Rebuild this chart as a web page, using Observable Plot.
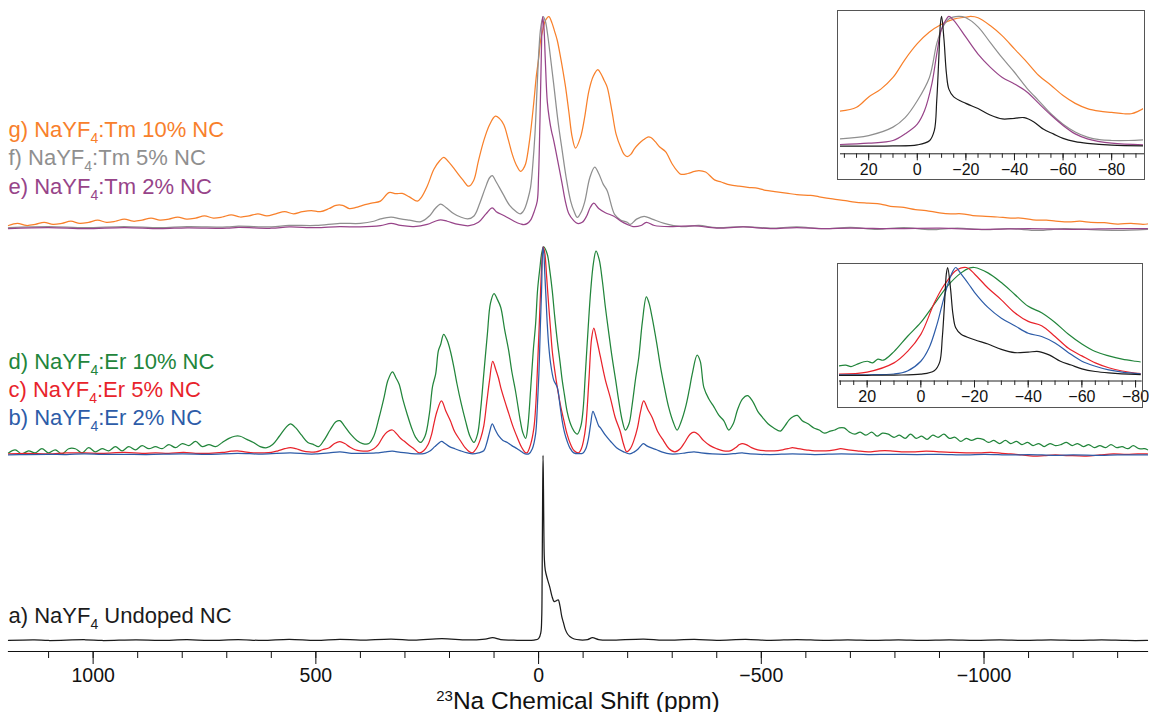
<!DOCTYPE html>
<html>
<head>
<meta charset="utf-8">
<script src="https://cdn.jsdelivr.net/npm/d3@7"></script>
<script src="https://cdn.jsdelivr.net/npm/@observablehq/plot@0.6"></script>
<style>
  body { margin: 0; background: #fff; }
  #wrap { position: relative; width: 1149px; height: 712px; font-family: "Liberation Sans", Arial, Helvetica, sans-serif; }
  #wrap svg { position: absolute; overflow: visible; }
  .frameBox { position: absolute; border: 1px solid #555; box-sizing: border-box; pointer-events: none; }
</style>
</head>
<body>
<div id="wrap"></div>
<script>
// ---------------- DATA (ppm, intensity % of own main peak) ----------------
const seriesKeys = ["a", "b", "c", "d", "e", "f", "g"];
const seriesLabels = {
  a: "a) NaYF4 Undoped NC",
  b: "b) NaYF4:Er 2% NC",
  c: "c) NaYF4:Er 5% NC",
  d: "d) NaYF4:Er 10% NC",
  e: "e) NaYF4:Tm 2% NC",
  f: "f) NaYF4:Tm 5% NC",
  g: "g) NaYF4:Tm 10% NC"
};
const axisTitle = "23Na Chemical Shift (ppm)";
const mainTicks = [1000, 500, 0, -500, -1000];
const insetTicks = [20, 0, -20, -40, -60, -80];

// a) undoped
const specA = [[1190,0],[1132,0.3],[1100,0],[1017,0.4],[980,0],[903,0.4],[850,0],[789,0.5],[740,0],[674,0.5],[620,0],[560,0.6],[500,0],[446,0.6],[400,0.2],[331,0.8],[280,0.2],[217,1],[160,0.3],[120,0.8],[103,1.5],[85,0.5],[60,0.2],[31,0],[10,0.2],[0,1],[-5,4.2],[-7,12],[-8,35],[-9,74],[-10,100],[-11,82],[-12,56],[-13,44],[-15,38],[-20,33],[-25,29],[-30,24],[-35,21],[-40,21.5],[-44,22],[-48,18.7],[-52,13],[-56,9.5],[-60,6],[-65,3.5],[-70,2.2],[-80,0.8],[-93,0.3],[-110,0.5],[-121,1.5],[-135,0.5],[-160,0.2],[-236,0.8],[-280,0.2],[-350,0.6],[-400,0.1],[-465,0.6],[-520,0.1],[-580,0.5],[-640,0.1],[-694,0.4],[-750,0.1],[-808,0.4],[-860,0.1],[-922,0.4],[-980,0.1],[-1036,0.3],[-1090,0],[-1150,0.3],[-1210,0],[-1264,0.3],[-1320,0],[-1367,0]];

// b) Er 2%
const specB = [[1190,0],[1150,0.2],[1100,0.3],[1060,0.2],[1020,0.5],[980,0.3],[930,0.3],[880,0.2],[800,0.5],[740,0.3],[676,0.8],[620,0.4],[557,1],[520,0.5],[500,0.5],[470,1],[446,1.5],[420,0.8],[400,0.8],[365,1],[345,1.5],[328,1.8],[310,1.2],[290,0.8],[270,0.5],[255,0.8],[243,2],[233,4],[225,5.5],[218,6.5],[210,5.5],[200,4],[188,3],[175,2],[160,1],[148,0.5],[135,1],[123,2],[116,6],[110,11],[104,15],[97,12],[89,9],[80,7],[70,6],[60,4.5],[48,3],[38,1.5],[30,0.5],[22,0.5],[14,3],[6.7,10],[3,22],[-0.7,39],[-4,62],[-6.7,79],[-9.7,100],[-12,96],[-14,87],[-17,74],[-19.5,63],[-23,52],[-27,44],[-34,36],[-42,32.5],[-48,24],[-53,16.4],[-58,11],[-64,6.7],[-70,3.5],[-79,1],[-92,0.6],[-100,1],[-106,3],[-112,8],[-117,15],[-122,21],[-128,18],[-135,14],[-139,13],[-150,9.5],[-161,6.7],[-175,3.5],[-191,1.5],[-205,0.5],[-215,1.5],[-224,3],[-230,4.5],[-235,5.5],[-242,4.5],[-252,3.5],[-265,2.5],[-280,1.2],[-295,0.5],[-310,0.5],[-330,1],[-349,1.5],[-365,1],[-390,0.5],[-420,0.3],[-445,0.8],[-457,1],[-475,0.5],[-520,0.2],[-570,0.5],[-620,0.2],[-680,0.5],[-740,0.2],[-790,0.3],[-850,0.2],[-900,0.3],[-960,0],[-1000,0.3],[-1060,0],[-1100,0.2],[-1160,-0.2],[-1200,0],[-1260,-0.2],[-1300,0],[-1367,0]];

// c) Er 5%
const specC = [[1190,0.5],[1150,0.8],[1100,0.5],[1060,1],[1020,1],[980,0.8],[930,1.2],[890,0.8],[860,1],[830,0.8],[797,1.2],[770,0.8],[740,0.8],[710,1.2],[690,1.8],[676,2],[660,1.5],[640,1],[620,1],[600,1.2],[585,2],[570,3],[557,3.5],[545,3],[530,2],[515,1.5],[500,1.5],[485,2.5],[470,3.5],[458,5.5],[446,6.4],[435,5.5],[425,4],[412,2.5],[400,2],[381,2],[370,3],[360,5],[350,8.5],[340,11],[328,12],[318,10],[310,8],[302,6.7],[290,4.5],[280,3],[268,1],[258,2],[248,5],[240,10],[235,15],[228,21],[218,26],[208,21],[198,16.4],[188,11],[175,6.7],[165,3.5],[155,1.5],[149,1],[140,3],[130,8],[123,14],[116,26],[110,36],[103,45],[96,41],[90,37],[85,32.5],[76,26],[67,20],[58,14],[48,8.5],[40,4.5],[30,1.2],[26,1],[18,5],[10.5,13],[6,25],[3,39],[-1,60],[-4.5,79],[-8,95],[-10.5,100],[-14,97],[-18,86],[-23,71],[-27,60],[-30.7,50],[-36,41],[-42,32.5],[-50,23],[-57,16.4],[-64,10],[-72,5],[-80,2],[-90,1],[-96,3],[-101,7],[-106,14],[-113,36],[-119,56],[-124,61],[-130,56],[-139,47],[-150,36],[-161,27.6],[-172,18],[-183,11.5],[-191,5],[-198,1.5],[-206,3],[-214,7],[-222,13],[-229,21],[-236,26],[-245,22],[-255,18],[-268,11],[-281,6.7],[-293,3],[-306,1.5],[-318,3],[-328,6],[-340,10],[-349,11],[-358,10],[-370,7],[-385,4.5],[-400,3],[-415,2],[-430,2],[-442,3.5],[-451,5],[-457,5.5],[-466,5],[-478,3.5],[-492,2.5],[-510,2],[-530,2],[-548,2.5],[-560,3],[-570,3.5],[-582,3],[-600,2.5],[-620,2],[-645,2],[-665,2.5],[-678,3],[-695,2.5],[-715,2],[-740,1.5],[-765,2],[-790,2],[-815,1.5],[-840,1.5],[-870,1.8],[-903,1.5],[-930,1.2],[-960,1],[-990,1],[-1015,1.2],[-1040,0.8],[-1060,0.5],[-1085,0],[-1110,-0.5],[-1135,-0.3],[-1160,0],[-1190,-0.3],[-1230,-0.5],[-1260,0],[-1290,0.5],[-1320,0.3],[-1345,0.5],[-1367,0.5]];

// d) Er 10%
const specD = [[1190,1],[1175,2.5],[1160,0.5],[1145,2],[1130,1],[1115,3],[1100,1],[1085,2.5],[1070,0.5],[1055,3],[1040,3],[1025,1],[1010,3.5],[995,1.5],[980,3],[965,2],[950,4],[935,2],[920,4],[905,2.5],[890,4.5],[875,3],[860,4],[845,3],[830,5],[815,3.5],[800,5.5],[785,4.5],[770,6.5],[755,4],[740,5],[725,4],[710,6],[695,8],[682,9],[670,9],[655,7.5],[640,6],[625,4],[610,3.5],[597,5],[582,9],[568,13],[557,15],[545,13],[532,9.5],[518,6],[505,5],[494,4],[482,7],[468,12],[455,16],[446,16.5],[436,14],[422,10],[408,7],[395,5.5],[381,5.5],[370,9],[358,18],[347,27.6],[338,36],[328,40],[320,37],[313,34],[305,27],[295,19.6],[285,13],[276,8.5],[265,6],[255,9],[245,20],[238,33],[231,39],[225,50],[220,53],[213,58],[205,55],[198,50],[190,42],[183,34],[174,25],[164,16.4],[154,9],[145,6],[137,10],[130,22],[123,39],[115,58],[108,73],[100,77.6],[93,75],[85,71],[76,60],[67,50],[60,40],[52,31],[46,23],[41,16.4],[35,10.5],[29,8],[24,14],[18,31],[12,50],[6.7,63],[2,80],[-3,90],[-7,97],[-11.5,100],[-19.5,96.5],[-25,89],[-30.7,79],[-36,67],[-42,55],[-48,45],[-53,36],[-58,29],[-64,21],[-70,16],[-75.6,13],[-81,11],[-87,10],[-95,14],[-100,22],[-105,39],[-111,60],[-117,79],[-123,92],[-129,98],[-136,94],[-143,84],[-150,71],[-158,58],[-165,47],[-173,36],[-180,26],[-188,16.4],[-195,12],[-203,15],[-210,24],[-218,37],[-225,47],[-233,64],[-242,76],[-248,73],[-255,66],[-265,54],[-274,42],[-283,32],[-292,23],[-302,16],[-311,12],[-320,16],[-330,23],[-338,31],[-345,39],[-356,48],[-363,45],[-371,32.5],[-382,27],[-394,23],[-405,19],[-416,16.4],[-427,12],[-437,15],[-447,22],[-458,27],[-469,28.5],[-480,26],[-492,21],[-503,18],[-515,15],[-528,13],[-543,11.5],[-553,14],[-563,17],[-572,18.5],[-581,19],[-592,16.5],[-605,15],[-618,13],[-630,12],[-642,10.5],[-655,11.5],[-665,12],[-675,13],[-686,13],[-698,11],[-710,10],[-722,11],[-735,9.5],[-748,11],[-760,9],[-772,10.5],[-785,10],[-798,8.5],[-810,9.5],[-823,8],[-835,10],[-848,8],[-860,9],[-872,7.5],[-885,9.5],[-897,8.5],[-910,10],[-922,8],[-935,8.5],[-948,6.5],[-960,8],[-972,7],[-985,8],[-998,7.5],[-1010,6],[-1022,7],[-1035,5.5],[-1048,7],[-1060,5.5],[-1073,6.5],[-1085,5],[-1098,6],[-1110,4.5],[-1123,5.5],[-1135,4],[-1148,5.5],[-1160,4.5],[-1173,5],[-1185,6],[-1198,4.5],[-1210,5.5],[-1223,4],[-1235,5],[-1248,3.5],[-1260,4.5],[-1273,3.5],[-1285,5],[-1298,3.5],[-1310,4],[-1323,3],[-1335,4.5],[-1348,3],[-1360,3],[-1367,2.5]];

// e) Tm 2%
const specE = [[1190,0],[1100,0.5],[1017,0],[930,0.5],[850,0],[789,0.4],[700,0.2],[674,0.6],[600,0.2],[560,0.8],[500,0.5],[446,1],[400,0.8],[355,1.4],[331,2.5],[310,1.5],[280,1],[250,2],[232,3.5],[220,4.2],[205,3.5],[180,2],[156,1.4],[135,3],[118,7],[104,9.8],[95,8],[76,6],[55,3.5],[40,2.2],[33,1.9],[25,2.5],[18,4],[10,8],[3,13],[0,25],[-3,50],[-6,80],[-9,100],[-12,95],[-15,80],[-19.5,60],[-24,52],[-29,46],[-34,41.5],[-43,32],[-53,21],[-60,13],[-68,7],[-78,4],[-87,2.5],[-98,3],[-108,6],[-116,10],[-124,12],[-135,9.5],[-150,7.5],[-168,6],[-185,3.5],[-199,2],[-212,1],[-230,1.5],[-242,3],[-260,1.5],[-300,1],[-350,1.3],[-400,0.3],[-460,0.8],[-520,0],[-580,0.5],[-640,0],[-700,0.3],[-800,0],[-900,0.2],[-1000,-0.3],[-1100,0],[-1200,-0.3],[-1300,0],[-1367,0]];

// f) Tm 5%
const specF = [[1190,0.5],[1100,1],[1017,0.5],[930,1],[850,0.5],[789,1],[700,0.8],[674,1.2],[600,0.8],[560,1.5],[500,1.5],[446,2.5],[400,2.5],[370,3.5],[355,4.6],[331,5.5],[310,4.6],[290,4],[264,3.3],[245,6],[232,9.5],[220,11.6],[208,10],[190,7],[175,5.5],[159,4.6],[145,6],[132,12],[120,19],[110,24],[104,25],[95,22],[80,16.4],[65,11],[50,8],[41,7],[35,8],[30,10],[24,14],[18,19.5],[13,30],[8,45],[3,68],[-1,85],[-5,95],[-10.5,100],[-15,98],[-20,92],[-26,82],[-34,68],[-44,50],[-53,36.8],[-62,24],[-72,13],[-80,8],[-87,5.3],[-96,8],[-104,13],[-115,24],[-126,29],[-135,26],[-145,21],[-154,17.9],[-171,6.6],[-185,4],[-199,3],[-206,2],[-220,4.5],[-237,5.8],[-255,4.5],[-282,2.5],[-320,1],[-360,1.5],[-400,0.5],[-460,1],[-520,0.3],[-580,0.8],[-640,0],[-700,0.6],[-760,-0.3],[-820,0.5],[-880,-0.5],[-940,0.3],[-1000,-0.5],[-1060,0],[-1120,-0.8],[-1180,0],[-1240,-0.5],[-1300,-0.8],[-1367,-0.3]];

// g) Tm 10%
const specG = [[1190,1.5],[1170,2.5],[1150,1.5],[1130,2],[1110,3],[1090,2],[1070,2.5],[1050,3.5],[1030,2.5],[1010,3],[990,4],[970,3],[950,3.5],[930,4.5],[910,3.5],[890,4],[870,5],[850,4],[830,4.5],[810,5.5],[790,4.5],[770,5],[750,6],[730,5],[710,5.5],[690,6.5],[670,5.5],[650,6],[630,7],[610,6],[590,7],[570,8],[550,7],[530,8],[510,8.5],[490,8],[470,9.5],[455,11],[440,11],[425,9.5],[410,10],[395,11],[375,12],[355,13],[336,17],[320,16.5],[306,16.6],[290,15],[272,13],[263,14.8],[250,20],[235,28],[222,32],[213,33.6],[200,31],[185,27],[170,23],[157,20],[146,22.6],[135,32],[123,41.5],[110,49],[97,53],[88,52],[78,49],[68,42],[59,35],[50,30],[40.4,27],[35,28],[29,30.6],[20,42],[10.5,60],[5,72],[0,80],[-4.5,88.7],[-10,94],[-15,98],[-23,100],[-30,97],[-36,93],[-42,88.7],[-50,80],[-55,74],[-60.6,66.7],[-68,55],[-75.6,43],[-83,38],[-94,43],[-103,52],[-113,65],[-123,72],[-133,75],[-140,73],[-147,70],[-154,66.7],[-165,55],[-174,44.6],[-185,38],[-192,35],[-199,34],[-207,35],[-215,37.6],[-225,40],[-236,42],[-245,43.2],[-252,43],[-262,41],[-272,38.5],[-285,36.3],[-300,30.5],[-312,27],[-320,25.6],[-335,26],[-350,27],[-360,27.4],[-375,26.7],[-395,23],[-410,22],[-430,20.6],[-450,20],[-470,19.5],[-493,19],[-510,18],[-530,17.5],[-556,16.8],[-580,16],[-611,15.7],[-630,15],[-660,14],[-689,13.2],[-710,12.5],[-740,12],[-768,11.6],[-790,10.5],[-820,10],[-846,9],[-870,8.5],[-900,7.5],[-925,7],[-950,7],[-975,6.2],[-1004,5.8],[-1030,5.5],[-1060,5],[-1082,5],[-1110,4.2],[-1140,4],[-1161,3.6],[-1190,3.2],[-1215,3.5],[-1240,3],[-1270,2.8],[-1300,2.2],[-1330,2.5],[-1357,2],[-1367,2.2]];

// insets (normalised, expanded centre region)
const insetA = [[32,0],[20,0],[10,0.2],[0,1],[-5,4.2],[-7,12],[-8,35],[-8.5,53],[-9,74],[-9.5,94],[-10,100],[-11,82],[-12,56],[-13,44],[-15,38],[-20,33],[-25,29],[-30,24],[-35,21],[-40,21.5],[-44,22],[-48,18.7],[-52,13],[-56,9.5],[-60,6],[-65,3.5],[-70,2.2],[-80,0.8],[-94,0.3]];
const insetE = [[32,1.3],[20,2.3],[10,4.4],[5,9.5],[0,17],[-3,27.5],[-6,48],[-8,71],[-10,90.5],[-12,98],[-13,100],[-15,97],[-20,84],[-25,71],[-30,61],[-35,53],[-40,48],[-45,42],[-50,33],[-55,24],[-60,16],[-65,9.5],[-70,5.7],[-80,2.3],[-94,1]];
const insetF = [[32,5.7],[20,8.2],[10,14.7],[5,22],[0,35],[-5,53],[-8,79],[-10,90],[-13,98],[-17,100],[-20,99],[-25,92],[-30,80],[-35,68],[-40,57],[-45,45],[-50,35],[-55,25],[-60,17],[-65,11],[-70,7],[-75,5],[-80,4.4],[-87,4.4],[-94,5]];
const insetG = [[32,27],[25,30],[20,38],[15,44],[10,53],[5,67],[0,79],[-5,88],[-10,94],[-15,98],[-20,99.5],[-22,100],[-25,99],[-30,93],[-35,85],[-40,75],[-45,65],[-50,54.5],[-55,47],[-60,39],[-65,33],[-70,29],[-75,27],[-80,26],[-85,25],[-88,25],[-91,27],[-94,30]];
const insetB = [[31,0.5],[20,0.5],[10,1.2],[5,4],[0,13],[-3,25],[-6,47],[-8,66],[-10,84],[-12,97],[-13,100],[-15,94],[-18,84],[-20,77],[-25,63],[-30,53],[-35,46],[-40,39],[-45,36],[-50,30],[-55,21],[-60,13],[-65,8.4],[-70,5],[-75,3],[-83,1.2]];
const insetC = [[31,1.2],[20,3],[10,11.5],[5,22],[0,38],[-5,67],[-8,81],[-10,88],[-13,97],[-17,100],[-20,94],[-25,81],[-30,70],[-35,58],[-40,50],[-45,46],[-50,36],[-55,25],[-60,18],[-65,11.5],[-70,7],[-75,4],[-83,1.2]];
const insetD = [[31,8.4],[28,9.5],[26,8],[24,10],[20,13],[18,11.5],[16,15],[14,14],[10,22],[5,36],[0,49],[-5,66],[-10,83],[-15,95],[-18,99.4],[-20,100],[-25,95],[-30,86],[-35,75],[-40,64],[-45,58],[-50,49],[-55,38],[-60,29],[-65,22],[-70,18],[-75,15],[-80,13],[-83,12]];

// ---------------- STYLE / LAYOUT ----------------
const FONT = '"Liberation Sans", Arial, Helvetica, sans-serif';
const colors = {a: "#1b1b1b", b: "#2d5ca8", c: "#e8232b", d: "#22853b", e: "#974489", f: "#8f8f8f", g: "#f8802b"};
const stack = {
  a: {offset: 0, gain: 0.89, label: 8.2},
  b: {offset: 89.2, gain: 1, label: 103.4},
  c: {offset: 89.2, gain: 1, label: 117.0},
  d: {offset: 89.2, gain: 1, label: 130.3},
  e: {offset: 198, gain: 1.02, label: 214.8},
  f: {offset: 198, gain: 1.02, label: 228.4},
  g: {offset: 198, gain: 1.02, label: 242.0}
};
const spectra = {a: specA, b: specB, c: specC, d: specD, e: specE, f: specF, g: specG};
const drawOrder = ["g", "f", "e", "d", "c", "b", "a"];
const fmtMinus = d => d < 0 ? "\u2212" + Math.abs(d) : String(d);

const rows = {};
for (const k of seriesKeys) {
  rows[k] = spectra[k].map(([p, v]) => ({ppm: p, y: stack[k].offset + stack[k].gain * v}));
}
const labelRows = seriesKeys.map(k => ({text: seriesLabels[k], y: stack[k].label, color: colors[k]}));

const main = Plot.plot({
  width: 1149, height: 712,
  marginLeft: 8, marginRight: 2, marginTop: 0, marginBottom: 61,
  x: {domain: [1190, -1367]},
  y: {domain: [-5.29, 307.7], axis: null},
  color: {type: "identity"},
  style: {fontFamily: FONT, color: "#111", background: "transparent", overflow: "visible"},
  marks: [
    ...drawOrder.map(k => Plot.line(rows[k], {x: "ppm", y: "y", stroke: colors[k], strokeWidth: 1.25, curve: "catmull-rom"})),
    Plot.frame({anchor: "bottom", stroke: "#111", strokeWidth: 1.2}),
    Plot.axisX(mainTicks, {tickSize: 13, tickPadding: 3.5, fontSize: 19.5, tickFormat: fmtMinus, label: null, stroke: "#111"}),
    Plot.axisX({interval: 100, tickSize: 7, fill: "none", label: null, stroke: "#111"}),
    Plot.text([axisTitle], {frameAnchor: "bottom", lineAnchor: "bottom", dy: 57, fontSize: 24.5, fill: "#111"}),
    Plot.text(labelRows, {frameAnchor: "left", y: "y", text: "text", fill: d => d.color, fontSize: 22, textAnchor: "start", lineAnchor: "bottom"})
  ]
});

function inset({w, h, ml, mr, mb, xd, yd, series}) {
  return Plot.plot({
    width: w, height: h,
    marginLeft: ml, marginRight: mr, marginTop: 0, marginBottom: mb,
    x: {domain: xd},
    y: {domain: yd, axis: null},
    style: {fontFamily: FONT, color: "#111", background: "#fff"},
    marks: [
      ...series.map(([data, k]) => Plot.line(data, {x: d => d[0], y: d => d[1], stroke: colors[k], strokeWidth: 1.2, curve: "catmull-rom", clip: true})),
      Plot.frame({anchor: "bottom", stroke: "#222"}),
      Plot.axisX(insetTicks, {tickSize: 7, tickPadding: 3, fontSize: 16, tickFormat: fmtMinus, label: null, stroke: "#222"}),
      Plot.axisX({interval: 5, tickSize: 4.5, fill: "none", label: null, stroke: "#222"})
    ]
  });
}

const insetTop = inset({w: 308, h: 170, ml: 3, mr: 2, mb: 26.7, xd: [31.6, -93.1], yd: [-5.86, 104.6],
  series: [[insetG, "g"], [insetF, "f"], [insetE, "e"], [insetA, "a"]]});
const insetBot = inset({w: 306, h: 145, ml: 2, mr: 2.3, mb: 27.5, xd: [30.3, -82.1], yd: [-5.3, 103.7],
  series: [[insetD, "d"], [insetC, "c"], [insetB, "b"], [insetA, "a"]]});

// rich text: subscript 4 and superscript 23
function rich(svg) {
  const ns = "http://www.w3.org/2000/svg";
  svg.querySelectorAll("text").forEach(t => {
    const s = t.textContent;
    let m = s.match(/^(.*NaYF)4(.*)$/);
    if (m) {
      t.textContent = "";
      const a = document.createElementNS(ns, "tspan"); a.textContent = m[1];
      const b = document.createElementNS(ns, "tspan"); b.textContent = "4"; b.setAttribute("font-size", "14"); b.setAttribute("dy", "6");
      const c = document.createElementNS(ns, "tspan"); c.textContent = m[2]; c.setAttribute("dy", "-6");
      t.append(a, b, c);
      return;
    }
    m = s.match(/^23(Na.*)$/);
    if (m) {
      t.textContent = "";
      const b = document.createElementNS(ns, "tspan"); b.textContent = "23"; b.setAttribute("font-size", "15"); b.setAttribute("dy", "-8");
      const c = document.createElementNS(ns, "tspan"); c.textContent = m[1]; c.setAttribute("dy", "8");
      t.append(b, c);
    }
  });
}
rich(main);

const wrap = document.getElementById("wrap");
main.style.left = "0px"; main.style.top = "0px";
wrap.appendChild(main);

function place(svg, left, top, w, h) {
  svg.style.left = left + "px"; svg.style.top = top + "px";
  wrap.appendChild(svg);
  const box = document.createElement("div");
  box.className = "frameBox";
  Object.assign(box.style, {left: left + "px", top: top + "px", width: w + "px", height: h + "px"});
  wrap.appendChild(box);
}
place(insetTop, 837, 10, 308, 170);
place(insetBot, 837, 263, 306, 145);
</script>
</body>
</html>
